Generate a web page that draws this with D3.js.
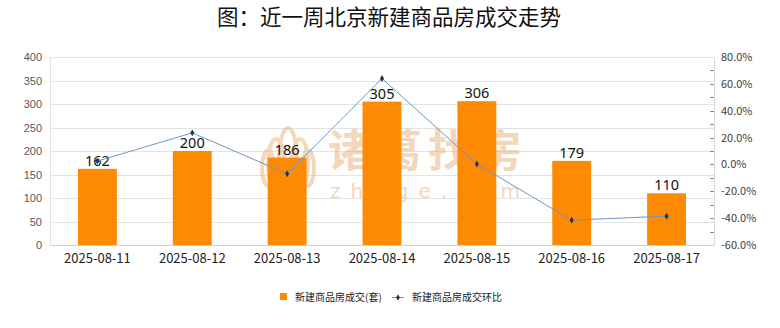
<!DOCTYPE html>
<html>
<head>
<meta charset="utf-8">
<script src="https://cdn.jsdelivr.net/npm/d3@7"></script>
<style>
  html, body { margin: 0; padding: 0; background: #fff; }
  svg { display: block; }
</style>
</head>
<body>
<svg id="chart" width="780" height="328"></svg>
<script>
// Daily new-home transactions in Beijing over the last week
const dates = ["2025-08-11", "2025-08-12", "2025-08-13", "2025-08-14", "2025-08-15", "2025-08-16", "2025-08-17"];
const deals = [162, 200, 186, 305, 306, 179, 110];
const changePct = [2.5, 23.5, -7.0, 64.0, 0.3, -41.5, -38.5];
const leftTicks = [0, 50, 100, 150, 200, 250, 300, 350, 400];
const rightTicks = [-60, -40, -20, 0, 20, 40, 60, 80];

const svg = d3.select("#chart");
const plotL = 50, plotR = 714, plotT = 57, plotB = 245;

const x = d3.scaleBand().domain(dates).range([plotL, plotR]).paddingInner(0.59).paddingOuter(0.295);
const yL = d3.scaleLinear().domain([0, 400]).range([plotB, plotT]);
const yR = d3.scaleLinear().domain([-60, 80]).range([plotB, plotT]);

// Title
svg.append("text")
  .attr("x", 389).attr("y", 25)
  .attr("text-anchor", "middle")
  .style("font-family", "'Noto Sans CJK SC', sans-serif")
  .style("font-size", "21.5px")
  .style("fill", "#111")
  .text("图：近一周北京新建商品房成交走势");

// Horizontal grid lines
svg.append("g")
  .selectAll("line")
  .data(leftTicks)
  .join("line")
  .attr("x1", plotL).attr("x2", plotR)
  .attr("y1", d => Math.round(yL(d)) + 0.5).attr("y2", d => Math.round(yL(d)) + 0.5)
  .attr("stroke", "#e3e3e3").attr("stroke-width", 1);

// Plot frame
svg.append("line").attr("x1", plotL + 0.5).attr("x2", plotL + 0.5).attr("y1", plotT).attr("y2", plotB)
  .attr("stroke", "#e3e3e3");
svg.append("line").attr("x1", plotR + 0.5).attr("x2", plotR + 0.5).attr("y1", plotT).attr("y2", plotB)
  .attr("stroke", "#d9d9d9");

// Watermark logo (behind the bars)
const wm = svg.append("g").attr("opacity", 0.5);
const petals = [
  {cx: 288, cy: 158, rx: 9, ry: 30},
  {cx: 276, cy: 163, rx: 8, ry: 24},
  {cx: 300, cy: 163, rx: 8, ry: 24},
  {cx: 268, cy: 168, rx: 6, ry: 18},
  {cx: 308, cy: 168, rx: 6, ry: 18}
];
wm.selectAll("ellipse").data(petals).join("ellipse")
  .attr("cx", d => d.cx).attr("cy", d => d.cy)
  .attr("rx", d => d.rx).attr("ry", d => d.ry)
  .attr("fill", "none").attr("stroke", "#eab07a").attr("stroke-width", 4);
wm.append("text")
  .attr("x", 328).attr("y", 167)
  .style("font-family", "'Noto Sans CJK SC', sans-serif")
  .style("font-size", "44px")
  .style("font-weight", "bold")
  .style("letter-spacing", "6px")
  .style("fill", "#eab07a")
  .text("诸葛找房");
wm.append("text")
  .attr("x", 330).attr("y", 198)
  .style("font-family", "'DejaVu Sans', sans-serif")
  .style("font-size", "20px")
  .style("letter-spacing", "10px")
  .style("fill", "#eab07a")
  .text("zhuge.com");

// Bars
svg.append("g")
  .selectAll("rect")
  .data(dates)
  .join("rect")
  .attr("x", d => x(d))
  .attr("width", x.bandwidth())
  .attr("y", (d, i) => yL(deals[i]))
  .attr("height", (d, i) => plotB - yL(deals[i]))
  .attr("fill", "#fd8a02");

// Bar value labels
svg.append("g")
  .selectAll("text")
  .data(dates)
  .join("text")
  .attr("x", d => x(d) + x.bandwidth() / 2)
  .attr("y", (d, i) => yL(deals[i]) - 3)
  .attr("text-anchor", "middle")
  .style("font-family", "'Noto Sans', sans-serif")
  .style("font-size", "14.5px")
  .style("fill", "#111")
  .text((d, i) => deals[i]);

// Week-on-week change line
const line = d3.line()
  .x((d, i) => x(dates[i]) + x.bandwidth() / 2)
  .y(d => yR(d));
svg.append("path")
  .datum(changePct)
  .attr("d", line)
  .attr("fill", "none")
  .attr("stroke", "#7096c2")
  .attr("stroke-width", 1);
svg.append("g")
  .selectAll("path")
  .data(changePct)
  .join("path")
  .attr("d", d3.symbol(d3.symbolDiamond, 14))
  .attr("transform", (d, i) => `translate(${x(dates[i]) + x.bandwidth() / 2},${yR(d)})`)
  .attr("fill", "#1e3556");

// Left axis
const axL = svg.append("g")
  .attr("transform", `translate(${plotL},0)`)
  .call(d3.axisLeft(yL).tickValues(leftTicks).tickSize(0).tickPadding(8));
axL.select(".domain").remove();
axL.selectAll("text")
  .style("font-family", "'Liberation Sans', Arial, sans-serif")
  .style("font-size", "11px")
  .style("fill", "#595959");

// Right axis
const axR = svg.append("g")
  .attr("transform", `translate(${plotR},0)`)
  .call(d3.axisRight(yR).tickValues(rightTicks).tickSize(0).tickPadding(7)
    .tickFormat(d => d.toFixed(1) + "%"));
axR.select(".domain").remove();
axR.selectAll("text")
  .style("font-family", "'Noto Sans CJK JP', sans-serif")
  .style("font-size", "11px")
  .style("fill", "#404040");
// Small ticks every 10% on the inner side of the right axis
const minor = d3.range(-50, 80, 10);
svg.append("g")
  .selectAll("line")
  .data(minor)
  .join("line")
  .attr("x1", plotR - 4).attr("x2", plotR)
  .attr("y1", d => Math.round(yR(d)) + 0.5).attr("y2", d => Math.round(yR(d)) + 0.5)
  .attr("stroke", "#8a8a8a");

// Category axis
const axX = svg.append("g")
  .attr("transform", `translate(0,${plotB})`)
  .call(d3.axisBottom(x).tickSize(0).tickPadding(9));
axX.select(".domain").attr("stroke", "#d0d0d0");
axX.selectAll("text")
  .style("font-family", "'Noto Sans CJK JP', sans-serif")
  .style("font-size", "13px")
  .style("fill", "#222");

// Legend
const lg = svg.append("g").attr("transform", "translate(0,297)");
lg.append("rect").attr("x", 280).attr("y", -4).attr("width", 7).attr("height", 7).attr("fill", "#fd8a02");
lg.append("text").attr("x", 295).attr("y", 4)
  .style("font-family", "'Noto Sans CJK SC', sans-serif").style("font-size", "10px").style("fill", "#222")
  .text("新建商品房成交(套)");
lg.append("line").attr("x1", 392).attr("x2", 404).attr("y1", 0.5).attr("y2", 0.5).attr("stroke", "#7096c2");
lg.append("path").attr("d", d3.symbol(d3.symbolDiamond, 12)).attr("transform", "translate(398,0.5)").attr("fill", "#1e3556");
lg.append("text").attr("x", 412).attr("y", 4)
  .style("font-family", "'Noto Sans CJK SC', sans-serif").style("font-size", "10px").style("fill", "#222")
  .text("新建商品房成交环比");
</script>
</body>
</html>
